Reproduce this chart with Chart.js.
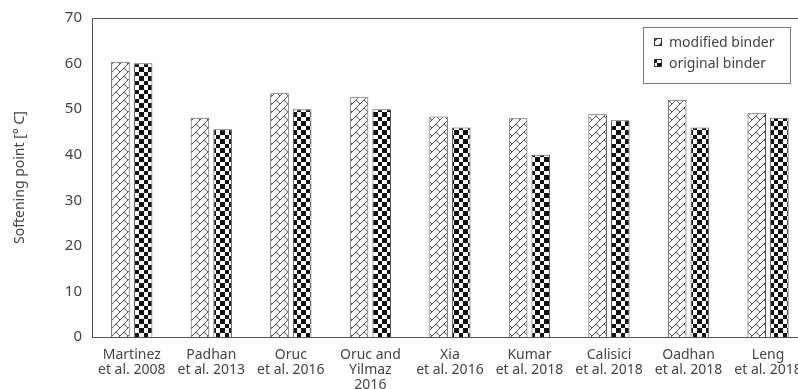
<!DOCTYPE html>
<html>
<head>
<meta charset="utf-8">
<title>Softening point</title>
<script src="https://cdn.jsdelivr.net/npm/chart.js@4.4.0/dist/chart.umd.min.js"></script>
<style>
    html, body { margin: 0; padding: 0; background: #fff; overflow: hidden; }
    #wrap { width: 812px; height: 400px; }
</style>
</head>
<body>
<div id="wrap"><canvas id="softeningChart" width="812" height="400"></canvas></div>
<script>
// --- Data ---
const studies = [
    ["Martinez", "et al. 2008"],
    ["Padhan", "et al. 2013"],
    ["Oruc", "et al. 2016"],
    ["Oruc and", "Yilmaz", "2016"],
    ["Xia", "et al. 2016"],
    ["Kumar", "et al. 2018"],
    ["Calisici", "et al. 2018"],
    ["Oadhan", "et al. 2018"],
    ["Leng", "et al. 2018"]
];
const modifiedBinder = [60.4, 48.1, 53.5, 52.6, 48.4, 48.0, 48.9, 52.1, 49.1];
const originalBinder = [60.1, 45.6, 50.0, 50.0, 46.0, 40.0, 47.6, 46.0, 48.1];
const seriesNames = ["modified binder", "original binder"];
const yMin = 0, yMax = 70, yStep = 10;

const AXIS_COLOR = '#555';
const TEXT_COLOR = '#444';
const FONT = { family: "'Noto Sans', sans-serif", size: 14, lineHeight: 1.08 };

// --- Fill patterns ---
function brickPattern() {
    const c = document.createElement('canvas');
    c.width = 8; c.height = 8;
    const g = c.getContext('2d');
    g.fillStyle = '#fff';
    g.fillRect(0, 0, 8, 8);
    g.strokeStyle = '#555';
    g.lineWidth = 1;
    g.beginPath();
    g.moveTo(0, 8); g.lineTo(8, 0);
    g.moveTo(4, 4); g.lineTo(8, 8);
    g.stroke();
    return g.createPattern(c, 'repeat');
}

function checkerPattern() {
    const c = document.createElement('canvas');
    c.width = 9; c.height = 9;
    const g = c.getContext('2d');
    g.fillStyle = '#fff';
    g.fillRect(0, 0, 9, 9);
    g.fillStyle = '#111';
    g.fillRect(0, 0, 4, 4);
    g.fillRect(4, 4, 5, 5);
    return g.createPattern(c, 'repeat');
}

const fills = [brickPattern(), checkerPattern()];

// box around the plot area
const plotBorder = {
    id: 'plotBorder',
    afterDatasetsDraw(chart) {
        const { ctx, chartArea: a } = chart;
        ctx.save();
        ctx.strokeStyle = AXIS_COLOR;
        ctx.lineWidth = 1;
        ctx.strokeRect(Math.round(a.left) + 0.5, Math.round(a.top) + 0.5,
            Math.round(a.right - a.left), Math.round(a.bottom - a.top));
        ctx.restore();
    }
};

// framed legend in the upper right corner
const boxLegend = {
    id: 'boxLegend',
    afterDraw(chart) {
        const ctx = chart.ctx;
        const x = 643, y = 27, w = 147, h = 56;
        ctx.save();
        ctx.fillStyle = '#fff';
        ctx.fillRect(x, y, w, h);
        ctx.strokeStyle = '#777';
        ctx.lineWidth = 1;
        ctx.strokeRect(x + 0.5, y + 0.5, w, h);
        ctx.font = `${FONT.size}px ${FONT.family}`;
        ctx.textBaseline = 'middle';
        chart.data.datasets.forEach((ds, i) => {
            const cy = y + 15 + i * 21;
            ctx.fillStyle = ds.backgroundColor;
            ctx.fillRect(x + 11, cy - 4, 8, 8);
            ctx.strokeStyle = '#333';
            ctx.strokeRect(x + 11.5, cy - 3.5, 7, 7);
            ctx.fillStyle = TEXT_COLOR;
            ctx.fillText(ds.label, x + 26, cy + 1);
        });
        ctx.restore();
    }
};

new Chart(document.getElementById('softeningChart'), {
    type: 'bar',
    data: {
        labels: studies,
        datasets: [modifiedBinder, originalBinder].map((values, i) => ({
            label: seriesNames[i],
            data: values,
            backgroundColor: fills[i],
            borderColor: AXIS_COLOR,
            borderWidth: 1,
            categoryPercentage: 0.57,
            barPercentage: 0.82
        }))
    },
    options: {
        responsive: false,
        animation: false,
        layout: { padding: { top: 17, right: 4, left: 0, bottom: 0 } },
        plugins: {
            legend: { display: false },
            tooltip: { enabled: false }
        },
        scales: {
            x: {
                grid: { display: false, drawTicks: false },
                border: { display: true, color: AXIS_COLOR, width: 1 },
                ticks: {
                    color: TEXT_COLOR,
                    font: FONT,
                    padding: 10,
                    maxRotation: 0,
                    autoSkip: false
                },
                afterFit: (scale) => { scale.height = 63; }
            },
            y: {
                min: yMin,
                max: yMax,
                grid: { display: false, drawTicks: false },
                border: { display: true, color: AXIS_COLOR, width: 1 },
                ticks: {
                    stepSize: yStep,
                    color: TEXT_COLOR,
                    font: { ...FONT, size: 15 },
                    padding: 10
                },
                title: {
                    display: true,
                    text: 'Softening point [° C]',
                    color: TEXT_COLOR,
                    font: FONT,
                    padding: { top: 12, bottom: 0 }
                },
                afterFit: (scale) => { scale.width = 92; }
            }
        }
    },
    plugins: [plotBorder, boxLegend]
});
</script>
</body>
</html>
